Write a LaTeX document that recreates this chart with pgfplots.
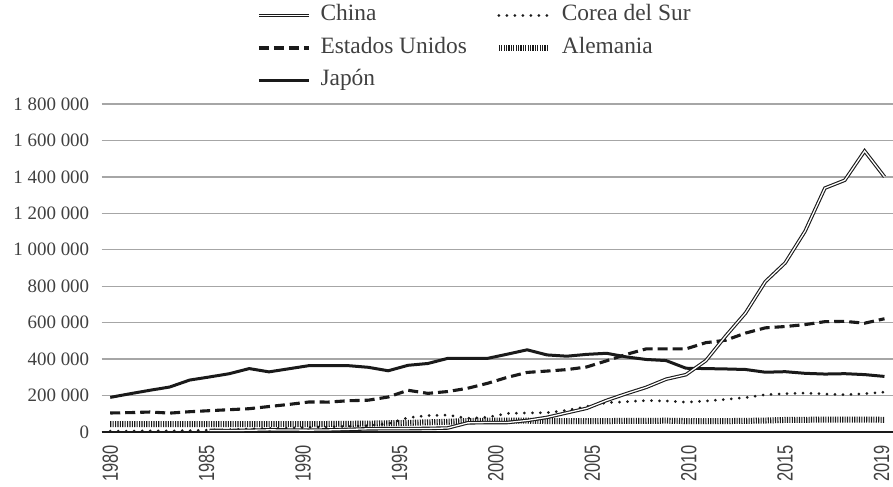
\documentclass[border=0pt]{standalone}
\usepackage{fontspec}
\setmainfont{Liberation Serif}
\newfontfamily\xfont[FakeStretch=0.75]{Liberation Sans}
\usepackage{pgfplots}
\usepackage{pgfplotstable}
\pgfplotsset{compat=1.18}
\definecolor{txt}{HTML}{404040}
\definecolor{gridc}{HTML}{A6A6A6}
\definecolor{ln}{HTML}{1A1A1A}

\pgfplotstableread{
year val
1985 8600
1986 8000
1987 9400
1988 11900
1989 10800
1990 10100
1991 11400
1992 14400
1993 17600
1994 18100
1995 18600
1996 19500
1997 22000
1998 50000
1999 52000
2000 52000
2001 63200
2002 80200
2003 105300
2004 130100
2005 173300
2006 210500
2007 245200
2008 289800
2009 314600
2010 391200
2011 526400
2012 652800
2013 825100
2014 928200
2015 1101900
2016 1338500
2017 1381600
2018 1542000
2019 1400700
}\china

\pgfplotstableread{
year val
1980 104300
1981 106400
1982 109600
1983 103700
1984 111300
1985 117000
1986 122400
1987 127900
1988 139800
1989 151300
1990 164600
1991 164300
1992 171600
1993 174600
1994 192000
1995 229000
1996 212000
1997 222000
1998 240000
1999 267000
2000 300000
2001 327000
2002 334400
2003 342400
2004 356900
2005 390700
2006 426000
2007 456200
2008 456300
2009 456100
2010 490200
2011 503600
2012 542800
2013 571600
2014 578800
2015 589400
2016 605600
2017 607000
2018 597100
2019 621500
}\usa

\pgfplotstableread{
year val
1980 190000
1981 210000
1982 229000
1983 247000
1984 285000
1985 302000
1986 320000
1987 348000
1988 330000
1989 347000
1990 364000
1991 364000
1992 364000
1993 355000
1994 336000
1995 366000
1996 376000
1997 404000
1998 404000
1999 404000
2000 427000
2001 451000
2002 423000
2003 416000
2004 426000
2005 432000
2006 412000
2007 398000
2008 392000
2009 350000
2010 348000
2011 346000
2012 343000
2013 328000
2014 331000
2015 322000
2016 318000
2017 320000
2018 315000
2019 305000
}\japan

\pgfplotstableread{
year val
1980 5100
1981 5300
1982 5900
1983 6400
1984 7700
1985 10600
1986 12800
1987 17100
1988 20100
1989 21700
1990 25800
1991 28100
1992 31100
1993 34700
1994 45700
1995 78500
1996 90300
1997 92700
1998 75200
1999 80600
2000 102000
2001 104600
2002 106100
2003 118700
2004 140100
2005 160900
2006 166200
2007 172500
2008 170600
2009 163500
2010 170100
2011 178900
2012 188900
2013 204600
2014 210300
2015 213700
2016 208800
2017 204800
2018 210000
2019 219000
}\korea

\pgfplotstableread{
year val
1980 43000
1981 43000
1982 43000
1983 43000
1984 43000
1985 43000
1986 43000
1987 43000
1988 43000
1989 43000
1990 43000
1991 44000
1992 45000
1993 46000
1994 48000
1995 50000
1996 53000
1997 56000
1998 60000
1999 62000
2000 63000
2001 62000
2002 60000
2003 60000
2004 59000
2005 60000
2006 61000
2007 61000
2008 62000
2009 60000
2010 59000
2011 60000
2012 61000
2013 63000
2014 66000
2015 67000
2016 68000
2017 68000
2018 68000
2019 67000
}\germany

\tikzset{
  chinastyle/.style={draw=ln, line width=1.1bp, double=white, double distance=1.3bp},
  coreastyle/.style={draw=ln, line width=3bp, line cap=round, dash pattern=on 0bp off 8bp},
  usstyle/.style={draw=ln, line width=3.1bp, dash pattern=on 10bp off 5bp},
  destyle/.style={draw=ln, line width=6bp, dash pattern=on 1.1bp off 1.3bp},
  jpstyle/.style={draw=ln, line width=3bp},
}

\begin{document}
\begin{tikzpicture}
\useasboundingbox (-101.7bp,-55bp) rectangle (791.3bp,432bp);
\begin{axis}[
  scale only axis, width=791.3bp, height=328bp,
  xmin=1979.57, xmax=2019.43, ymin=0, ymax=1800000,
  scaled y ticks=false,
  axis line style={draw=none},
  major tick length=0pt,
  ymajorgrids, grid style={draw=gridc, line width=1.3bp},
  ytick={0,200000,400000,600000,800000,1000000,1200000,1400000,1600000,1800000},
  yticklabels={0,200 000,400 000,600 000,800 000,1 000 000,1 200 000,1 400 000,1 600 000,1 800 000},
  yticklabel style={font=\fontsize{19}{22}\selectfont, text=txt, xshift=-9bp},
  extra y ticks={0}, extra y tick labels={},
  extra y tick style={major grid style={draw=ln, line width=1.8bp}},
  xtick={1980,1984.857,1989.714,1994.571,1999.428,2004.285,2009.142,2013.999,2018.856},
  xticklabels={1980,1985,1990,1995,2000,2005,2010,2015,2019},
  xticklabel style={font=\xfont\fontsize{22}{24}\selectfont, text=txt, yshift=-13bp, rotate=90, anchor=east, inner sep=0pt},
  legend style={at={(axis description cs:0.1963,1.305)}, anchor=north west, draw=none, fill=none,
    inner sep=0pt, outer sep=0pt, font=\fontsize{23.5}{28}\selectfont, text=txt,
    nodes={inner sep=0pt, text height=17bp, text depth=6bp}, row sep=9.5bp,
    /tikz/every odd column/.append style={column sep=10bp},
    /tikz/every even column/.append style={column sep=29bp}},
  legend columns=2,
  legend cell align=left,
  legend image code/.code={\draw[#1] (0bp,0bp) -- (50bp,0bp);},
]
\addplot[destyle, forget plot] table[x=year, y=val] {\germany};
\addplot[coreastyle, forget plot] table[x=year, y=val] {\korea};
\addplot[usstyle, forget plot] table[x=year, y=val] {\usa};
\addplot[jpstyle, forget plot] table[x=year, y=val] {\japan};
\addplot[chinastyle, forget plot] table[x=year, y=val] {\china};
\addlegendimage{chinastyle}
\addlegendentry{China}
\addlegendimage{coreastyle}
\addlegendentry{Corea del Sur}
\addlegendimage{usstyle}
\addlegendentry{Estados Unidos}
\addlegendimage{destyle}
\addlegendentry{Alemania}
\addlegendimage{jpstyle}
\addlegendentry{Japón}
\end{axis}
\end{tikzpicture}
\end{document}
